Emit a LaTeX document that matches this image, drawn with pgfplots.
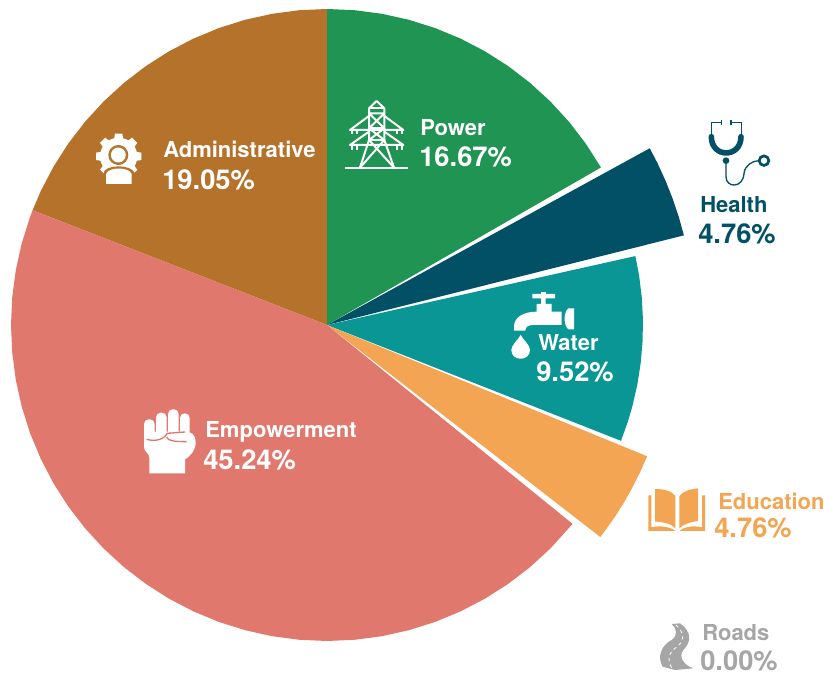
\documentclass[border=0pt]{standalone}
\usepackage{fontspec}
\setmainfont{TeX Gyre Heros}
\usepackage{pgfplots}
\pgfplotsset{compat=1.18}
\definecolor{cPower}{RGB}{31,148,83}
\definecolor{cHealth}{RGB}{2,80,102}
\definecolor{cWater}{RGB}{10,150,148}
\definecolor{cEdu}{RGB}{243,165,83}
\definecolor{cEmp}{RGB}{225,120,110}
\definecolor{cAdm}{RGB}{181,114,43}
\definecolor{cRoad}{RGB}{166,166,166}
\newcommand{\lab}[7]{%
  \node[anchor=base west,inner sep=0pt,text=#7] at (#1,#2) {\fontsize{16.5pt}{18pt}\selectfont\bfseries #3};
  \node[anchor=base west,inner sep=0pt,text=#7] at (#4,#5) {\fontsize{20.5pt}{22pt}\selectfont\bfseries #6};
}
\begin{document}
\begin{tikzpicture}
\path[use as bounding box] (0pt,0pt) rectangle (618.75pt,506.25pt);
\begin{axis}[
  anchor=south west, at={(0pt,0pt)},
  scale only axis, width=618.75pt, height=506.25pt,
  xmin=-327, xmax=498, ymin=-350, ymax=325,
  hide axis, clip=false, no markers, data cs=polar,
]
% Administrative 19.05 %
\addplot[fill=cAdm,draw=none] coordinates {(0,0) (90,316) (95,316) (100,316) (105,316) (110,316) (115,316) (120,316) (125,316) (130,316) (135,316) (140,316) (145,316) (150,316) (155,316) (158.7,316)} --cycle;
% Power 16.67 %
\addplot[fill=cPower,draw=none] coordinates {(0,0) (90,316) (85,316) (80,316) (75,316) (70,316) (65,316) (60,316) (55,316) (50,316) (45,316) (40,316) (35,316) (29.9,316)} --cycle;
% Health 4.76 %
\addplot[fill=cHealth,draw=none] coordinates {(0,0) (28.7,368) (26,368) (23,368) (20,368) (17,368) (14.1,368)} --cycle;
% Water 9.52 %
\addplot[fill=cWater,draw=none] coordinates {(0,0) (12.6,316) (9,316) (5,316) (1,316) (-3,316) (-7,316) (-11,316) (-15,316) (-18,316) (-21.5,316)} --cycle;
% Education 4.76 %
\addplot[fill=cEdu,draw=none] coordinates {(0,0) (-22.3,346) (-25,346) (-28,346) (-31,346) (-34,346) (-37.8,346)} --cycle;
% Empowerment 45.24 %
\addplot[fill=cEmp,draw=none] coordinates {(0,0) (158.7,316) (160,316) (165,316) (170,316) (175,316) (180,316) (185,316) (190,316) (195,316) (200,316) (205,316) (210,316) (215,316) (220,316) (225,316) (230,316) (235,316) (240,316) (245,316) (250,316) (255,316) (260,316) (265,316) (270,316) (275,316) (280,316) (285,316) (290,316) (295,316) (300,316) (305,316) (310,316) (315,316) (321,316)} --cycle;
\end{axis}
% pixel frame of the reference
\begin{scope}[yshift=506.25pt,x=0.75pt,y=-0.75pt]
\lab{420}{136}{Power}{419}{167}{16.67\%}{white}
\lab{163}{158}{Administrative}{162}{190}{19.05\%}{white}
\lab{538}{351}{Water}{536}{382}{9.52\%}{white}
\lab{205}{438}{Empowerment}{203}{470}{45.24\%}{white}
\lab{700}{213}{Health}{698}{244}{4.76\%}{cHealth}
\lab{718}{510}{Education}{714}{538}{4.76\%}{cEdu}
\lab{702}{641}{Roads}{700}{671}{0.00\%}{cRoad}
% tower
\begin{scope}[shift={(320,90)},x=0.25pt,y=-0.25pt,white,line width=1.5pt,line join=round]
\draw (75,233)--(265,233);
\draw (147,70)--(147,55)--(170,33)--(193,55)--(193,70)--cycle;
\draw (147,55)--(193,55);
\draw (147,70)--(147,150)--(120,233) (193,70)--(193,150)--(222,233);
\draw (147,70)--(193,115)--(147,150)--(222,233) (193,70)--(147,115)--(193,150)--(120,233);
\draw (147,115)--(193,115) (147,150)--(193,150);
\draw (147,78)--(90,120)--(250,120)--(193,78);
\draw (147,125)--(90,165)--(250,165)--(193,125);
\draw (95,120)--(95,133) (110,120)--(110,133) (230,120)--(230,133) (245,120)--(245,133);
\draw (95,165)--(95,180) (110,165)--(110,180) (230,165)--(230,180) (245,165)--(245,180);
\end{scope}
% gear and person
\begin{scope}[shift={(80,120)},x=0.25pt,y=-0.25pt]
\fill[white] (116,109) circle[radius=14pt];
\foreach \a in {0,45,...,315}
  \fill[white,shift={(116,109)},rotate=\a] (50,-14)--(68,-11)--(68,11)--(50,14)--cycle;
\fill[cAdm] (115,105) circle[radius=7.5pt];
\fill[white] (115,105) circle[radius=5.6pt];
\fill[cAdm] (70,200)--(70,160) .. controls (75,132) and (155,132) .. (165,160)--(165,200)--cycle;
\fill[white] (78,192)--(78,162) .. controls (85,140) and (148,140) .. (155,162)--(155,192)--cycle;
\end{scope}
% tap
\begin{scope}[shift={(500,280)},x=0.25pt,y=-0.25pt,white]
\fill (97,42)--(165,42)--(165,55)--(137,55)--(137,72)--(155,72)--(155,95)--(185,95)--(185,135)--(100,135) .. controls (85,135) and (76,140) .. (76,152)--(42,152)--(42,140) .. controls (42,112) and (70,95) .. (110,95)--(110,72)--(123,72)--(123,55)--(97,55)--cycle;
\fill (123,42)--(123,35)--(137,35)--(137,42)--cycle;
\fill (222,85)--(222,148)--(205,148) .. controls (190,135) and (190,98) .. (205,85)--cycle;
\fill (62,165) .. controls (70,180) and (90,195) .. (90,210) .. controls (90,245) and (34,245) .. (34,210) .. controls (34,195) and (54,180) .. (62,165)--cycle;
\end{scope}
% fist
\begin{scope}[shift={(130,400)},x=0.25pt,y=-0.25pt,white]
\fill[rounded corners=3.5pt] (42,58) rectangle (74,125);
\fill[rounded corners=3.5pt] (78,38) rectangle (110,125);
\fill[rounded corners=3.5pt] (114,28) rectangle (146,120);
\fill[rounded corners=3.5pt] (150,40) rectangle (179,120);
\fill (42,112)--(42,142) .. controls (42,155) and (58,160) .. (58,172)--(58,220)--(165,220)--(165,178) .. controls (185,165) and (197,150) .. (197,125) .. controls (197,105) and (185,95) .. (165,95)--(42,95)--cycle;
\draw[cEmp,line width=1pt] (110,112)..controls (115,122) and (130,125)..(170,125);
\draw[cEmp,line width=1pt] (50,118) .. controls (75,125) and (100,120) .. (112,100)--(165,96);
\end{scope}
% stethoscope
\begin{scope}[shift={(560,110)},x=0.25pt,y=-0.25pt,cHealth]
\draw[line width=0.8pt] (484,29)--(484,46) (484,38)--(454,38)--(454,78) (513,29)--(513,46) (513,38)--(544,38)--(544,78);
\draw[line width=4.2pt,line cap=round] (454,80) .. controls (454,145) and (543,145) .. (543,80);
\fill (498,152) circle[radius=2.5pt];
\draw[line width=1pt] (498,155)--(498,200) .. controls (498,235) and (550,235) .. (552,190) .. controls (555,165) and (578,152) .. (598,152);
\draw[line width=2pt] (612,152) circle[radius=3.6pt];
\end{scope}
% book
\begin{scope}[shift={(560,420)},x=0.25pt,y=-0.25pt,cEdu]
\fill (285,207) .. controls (310,207) and (335,212) .. (346,228)--(346,325) .. controls (335,312) and (310,305) .. (285,305)--cycle;
\fill (358,228) .. controls (370,212) and (395,207) .. (414,205)--(414,303) .. controls (395,305) and (370,312) .. (358,325)--cycle;
\fill (265,226)--(274,226)--(274,322) .. controls (300,316) and (330,320) .. (346,333)--(265,333)--cycle;
\fill (435,226)--(426,226)--(426,322) .. controls (400,316) and (372,320) .. (358,333)--(435,333)--cycle;
\end{scope}
% road
\begin{scope}[shift={(640,610)},x=0.25pt,y=-0.25pt]
\fill[cRoad] (95,42)--(120,40) .. controls (155,65) and (155,95) .. (130,120) .. controls (115,140) and (130,165) .. (160,175)--(105,180)--(68,170) .. controls (50,140) and (65,105) .. (95,90) .. controls (115,75) and (110,55) .. (95,42)--cycle;
\draw[white,line width=0.6pt,dash pattern=on 2.5pt off 2.5pt] (108,45) .. controls (135,70) and (135,95) .. (105,115) .. controls (80,135) and (85,155) .. (97,178);
\end{scope}
\end{scope}
\end{tikzpicture}
\end{document}
